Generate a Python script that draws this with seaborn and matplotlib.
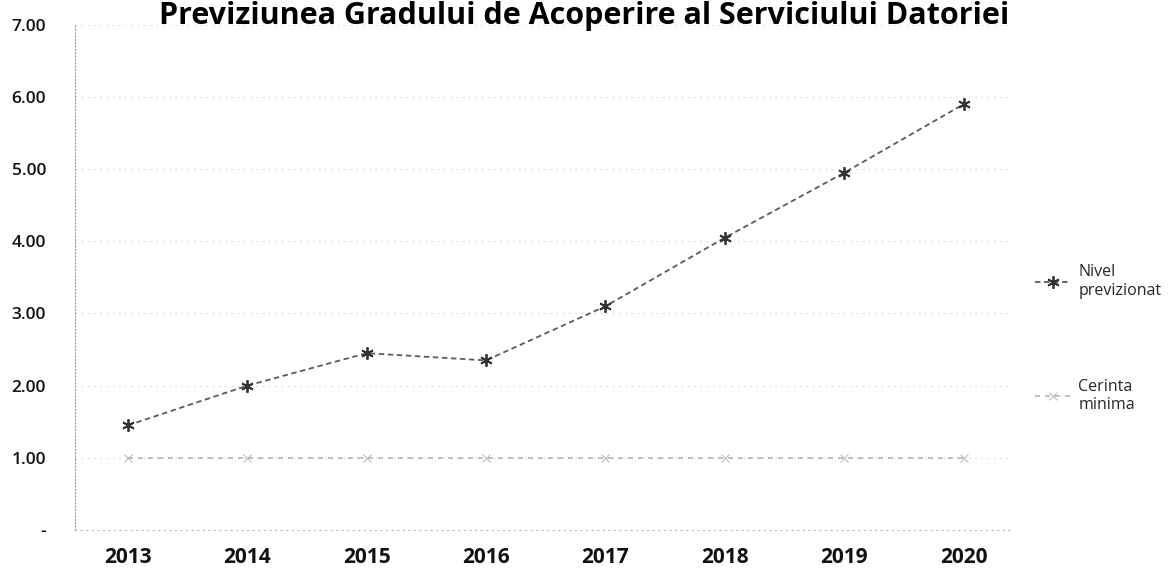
import pandas as pd
import matplotlib.pyplot as plt
import seaborn as sns

# values
years = ['2013', '2014', '2015', '2016', '2017', '2018', '2019', '2020']
nivel_previzionat = [1.45, 2.00, 2.45, 2.35, 3.10, 4.05, 4.95, 5.90]
cerinta_minima = [1.00, 1.00, 1.00, 1.00, 1.00, 1.00, 1.00, 1.00]
y_ticks = [0, 1, 2, 3, 4, 5, 6, 7]
y_labels = ['-', '1.00', '2.00', '3.00', '4.00', '5.00', '6.00', '7.00']

title = 'Previziunea Gradului de Acoperire al Serviciului Datoriei'


def main():
    data = pd.DataFrame({'an': years,
                         'Nivel previzionat': nivel_previzionat,
                         'Cerinta minima': cerinta_minima})

    sns.set_style('white')
    plt.rcParams['font.family'] = ['Open Sans', 'DejaVu Sans']

    fig = plt.figure(figsize=(11.76, 5.84), dpi=100)
    ax = fig.add_axes([0.064, 0.0925, 0.795, 0.865])

    # faint dotted grid like the scanned original
    for t in y_ticks[1:]:
        ax.axhline(t, color='#d2d2d2', lw=0.9, ls=(0, (1, 4)), zorder=0)

    sns.lineplot(data=data, x='an', y='Cerinta minima', ax=ax, color='#b5b5b5',
                 lw=1.2, linestyle=(0, (3, 3)), marker='x', markersize=6,
                 markeredgecolor='#bbbbbb', label='Cerinta\nminima', sort=False)
    sns.lineplot(data=data, x='an', y='Nivel previzionat', ax=ax, color='#5a5a5a',
                 lw=1.3, linestyle=(0, (3, 2)), marker=(6, 2, 0), markersize=9,
                 markeredgecolor='#333333', markeredgewidth=1.3,
                 label='Nivel\nprevizionat', sort=False)

    ax.set_ylim(0, 7)
    ax.set_xlim(-0.44, 7.39)
    ax.set_yticks(y_ticks)
    ax.set_yticklabels(y_labels, fontsize=12.5, color='#111111', fontweight='semibold')
    ax.tick_params(axis='x', labelsize=15, pad=12, colors='#111111', length=0)
    ax.tick_params(axis='y', pad=21, length=0)
    for lbl in ax.get_xticklabels():
        lbl.set_fontweight('bold')
    ax.set_xlabel('')
    ax.set_ylabel('')

    for side in ['top', 'right']:
        ax.spines[side].set_visible(False)
    ax.spines['left'].set_color('#999999')
    ax.spines['left'].set_linestyle((0, (1, 2)))
    ax.spines['bottom'].set_color('#bbbbbb')
    ax.spines['bottom'].set_linestyle((0, (1, 4)))

    fig.text(0.497, 0.999, title, ha='center', va='top', fontsize=22,
             fontweight='bold', color='#000000')

    handles, labels = ax.get_legend_handles_labels()
    ax.legend(handles[::-1], labels[::-1], loc='center left',
              bbox_to_anchor=(0.868, 0.42), bbox_transform=fig.transFigure,
              frameon=False, fontsize=11.5, labelspacing=5.0, handlelength=2.2,
              handletextpad=0.5)

    fig.savefig('out.png', dpi=100)


if __name__ == "__main__":
    main()
